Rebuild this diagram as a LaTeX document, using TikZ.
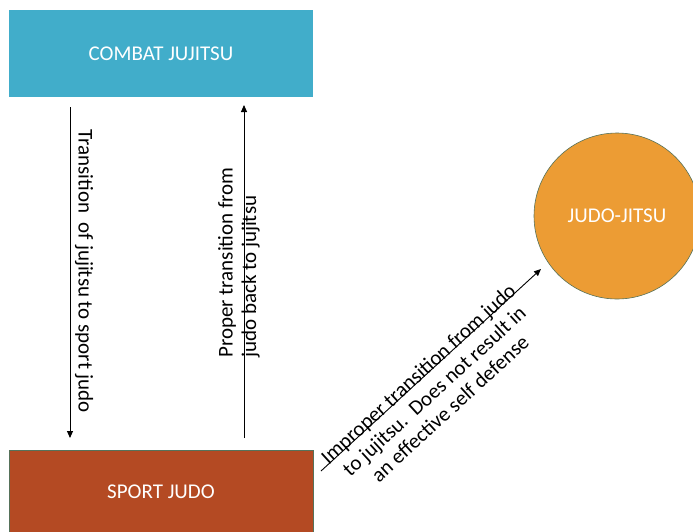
\documentclass[tikz,border=0pt]{standalone}
\usepackage{fontspec}
\setmainfont{Carlito}
\usetikzlibrary{arrows.meta, positioning}

\definecolor{combatblue}{HTML}{41ADCA}
\definecolor{judorust}{HTML}{B44A23}
\definecolor{jitsuorange}{HTML}{EC9C34}
\definecolor{edgegreen}{HTML}{56725A}

\begin{document}
\begin{tikzpicture}[x=1pt, y=-1pt]

  % Define styles
  \tikzstyle{box} = [rectangle, minimum width=304pt, inner sep=0pt, text=white, font=\fontsize{21}{23.5}\selectfont]
  \tikzstyle{ring} = [circle, draw=edgegreen, line width=0.6pt, fill=jitsuorange, minimum size=166pt, inner sep=0pt, text=white, font=\fontsize{21}{23.5}\selectfont]
  \tikzstyle{lbl} = [inner sep=0pt, font=\fontsize{21}{23.5}\selectfont]
  \tikzstyle{arr} = [draw, line width=0.9pt, -{Triangle[length=7pt, width=6pt]}]

  \useasboundingbox (0,0) rectangle (693,531);
  \clip (0,0) rectangle (693,531);

  % Boxes
  \node[box, fill=combatblue, minimum height=87pt] (combat) at (161, 53.5) {COMBAT JUJITSU};
  \node[box, fill=judorust, draw=edgegreen, line width=0.6pt, minimum height=84pt] (sport) at (161, 492) {SPORT JUDO};
  \node[ring] (jitsu) at (617, 216) {JUDO-JITSU};

  % Arrow ends
  \coordinate (down_top) at (70, 107);
  \coordinate (down_bot) at (70, 438);
  \coordinate (up_bot) at (244, 438);
  \coordinate (up_top) at (244, 105);
  \coordinate (impr_start) at (321, 471);
  \coordinate (impr_end) at (541, 269);

  % Connections
  \draw[arr] (down_top) -- (down_bot);
  \draw[arr] (up_bot) -- (up_top);
  \draw[arr] (impr_start) -- (impr_end);

  % Labels
  \node[lbl, rotate=-90] (down_lbl) at (84, 271) {Transition\ \ of jujitsu to sport judo};
  \node[lbl, rotate=90, align=left] (up_lbl) at (239, 262.5) {Proper transition from\\judo back to jujitsu};
  \node[lbl, rotate=42.5, align=center] (impr_lbl) at (434, 391) {Improper transition from judo\\to jujitsu.\ \ Does not result in\\an effective self defense};

\end{tikzpicture}
\end{document}
